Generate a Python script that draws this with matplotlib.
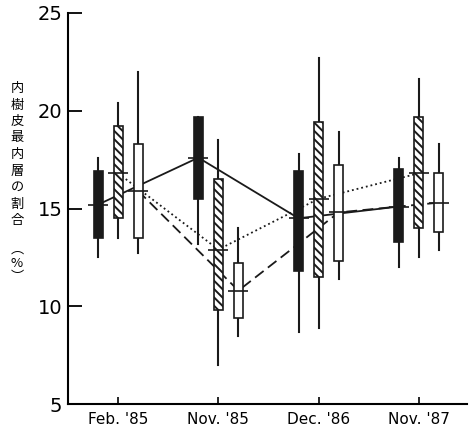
import matplotlib
matplotlib.use("Agg")
import matplotlib.pyplot as plt
import numpy as np

plt.rcParams['font.family'] = ['DejaVu Sans', 'Noto Sans CJK JP']
plt.rcParams['hatch.linewidth'] = 1.4

dates = ["Feb. '85", "Nov. '85", "Dec. '86", "Nov. '87"]

# per series: whisker low, box low, mean, box high, whisker high (%)
black_lo = [12.5, 13.2, 8.7, 12.0]
black_q1 = [13.5, 15.5, 11.8, 13.3]
black_mean = [15.2, 17.6, 14.5, 15.1]
black_q3 = [16.9, 19.7, 16.9, 17.0]
black_hi = [17.6, 19.7, 17.8, 17.6]

hatch_lo = [13.5, 7.0, 8.9, 12.5]
hatch_q1 = [14.5, 9.8, 11.5, 14.0]
hatch_mean = [16.8, 12.9, 15.5, 16.8]
hatch_q3 = [19.2, 16.5, 19.4, 19.7]
hatch_hi = [20.4, 18.5, 22.7, 21.6]

white_lo = [12.7, 8.5, 11.4, 12.9]
white_q1 = [13.5, 9.4, 12.3, 13.8]
white_mean = [15.9, 10.8, 14.8, 15.3]
white_q3 = [18.3, 12.2, 17.2, 16.8]
white_hi = [22.0, 14.0, 18.9, 18.3]

fig = plt.figure(figsize=(4.71, 4.37), dpi=100)
ax = fig.add_axes([68 / 471, 33 / 437, 399 / 471, 391 / 437])

x = np.arange(len(dates))
w = 0.09
series = [
    (-0.2, black_lo, black_q1, black_mean, black_q3, black_hi, '#1a1a1a', None, '-'),
    (0.0, hatch_lo, hatch_q1, hatch_mean, hatch_q3, hatch_hi, 'white', '\\\\\\\\', ':'),
    (0.2, white_lo, white_q1, white_mean, white_q3, white_hi, 'white', None, (0, (6, 3))),
]

for off, lo, q1, mean, q3, hi, fc, hatch, ls in series:
    xs = x + off
    # connecting line of the means (drawn behind the bars)
    ax.plot(xs, mean, color='#1a1a1a', lw=1.3, ls=ls, zorder=1)
    for xi, l, a, m, b, h in zip(xs, lo, q1, mean, q3, hi):
        ax.plot([xi, xi], [l, h], color='#1a1a1a', lw=1.5, zorder=2)
        ax.bar(xi, b - a, bottom=a, width=w, facecolor=fc, edgecolor='#1a1a1a',
               lw=1.2, hatch=hatch, zorder=3)
        ax.plot([xi], [m], marker='_', markersize=14, mew=1.2, color='#1a1a1a', zorder=4)

ax.set_xlim(-0.5, 3.48)
ax.set_ylim(5, 25)
ax.set_yticks([5, 10, 15, 20, 25])
ax.set_xticks(x)
ax.set_xticklabels(dates, fontsize=11)
ax.tick_params(axis='y', direction='in', length=10, width=1.3, labelsize=14, pad=4)
ax.tick_params(axis='x', direction='in', length=5, width=1.2, pad=6)
for s in ['top', 'right']:
    ax.spines[s].set_visible(False)
for s in ['left', 'bottom']:
    ax.spines[s].set_linewidth(1.5)

ylab = '\n'.join('内樹皮最内層の割合')
fig.text(17 / 471, 1 - 82 / 437, ylab, ha='center', va='top', fontsize=9.5,
         family=['Noto Sans CJK JP'], linespacing=1.35)
fig.text(17 / 471, 1 - 243 / 437, '︵\n%\n︶', ha='center', va='top', fontsize=9.5,
         family=['Noto Sans CJK JP'], linespacing=1.1)

fig.savefig('out.png', dpi=100)
